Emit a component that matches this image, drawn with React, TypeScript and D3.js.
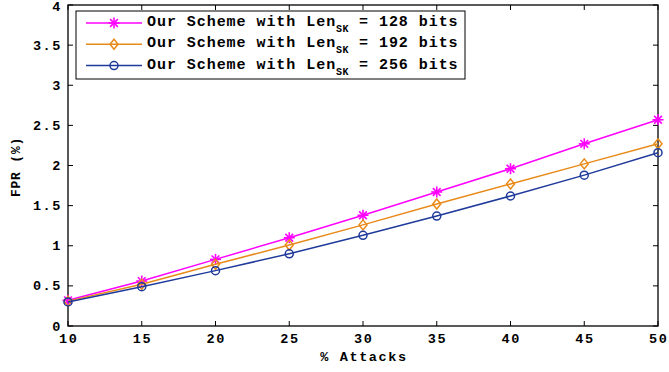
import React from 'react';
import * as d3 from 'd3';

const attacks = [10, 15, 20, 25, 30, 35, 40, 45, 50];
const fpr128 = [0.32, 0.56, 0.83, 1.10, 1.38, 1.67, 1.96, 2.27, 2.57];
const fpr192 = [0.31, 0.52, 0.77, 1.01, 1.26, 1.52, 1.77, 2.02, 2.27];
const fpr256 = [0.30, 0.49, 0.69, 0.90, 1.13, 1.37, 1.62, 1.88, 2.16];
const xTicks = [10, 15, 20, 25, 30, 35, 40, 45, 50];
const yTicks = [0, 0.5, 1, 1.5, 2, 2.5, 3, 3.5, 4];
const seriesBits = ['128', '192', '256'];
const seriesColors = ['#ff00ff', '#e88a1a', '#1f3a9a'];
const seriesMarkers = ['star', 'diamond', 'circle'];

const FONT = "'Liberation Mono', 'DejaVu Sans Mono', 'Courier New', monospace";

function Marker({ kind, x, y, color }: { kind: string; x: number; y: number; color: string }) {
  if (kind === 'star') {
    const r = 5.5;
    return (
      <g stroke={color} strokeWidth={1.6}>
        <line x1={x - r} y1={y} x2={x + r} y2={y} />
        <line x1={x} y1={y - r} x2={x} y2={y + r} />
        <line x1={x - r * 0.7} y1={y - r * 0.7} x2={x + r * 0.7} y2={y + r * 0.7} />
        <line x1={x - r * 0.7} y1={y + r * 0.7} x2={x + r * 0.7} y2={y - r * 0.7} />
      </g>
    );
  }
  if (kind === 'diamond') {
    const r = 5;
    return <path d={`M${x},${y - r}L${x + r * 0.8},${y}L${x},${y + r}L${x - r * 0.8},${y}Z`} fill="none" stroke={color} strokeWidth={1.5} />;
  }
  return <circle cx={x} cy={y} r={4} fill="none" stroke={color} strokeWidth={1.5} />;
}

export default function App() {
  const W = 669, H = 372;
  const m = { left: 68, right: 11, top: 5, bottom: 46 };
  const x = d3.scaleLinear().domain([10, 50]).range([m.left, W - m.right]);
  const y = d3.scaleLinear().domain([0, 4]).range([H - m.bottom, m.top]);
  const series = [fpr128, fpr192, fpr256];
  const line = d3.line<number>().x((_, i) => x(attacks[i])).y(d => y(d));
  const tick = 5;
  const tickStyle = { fontFamily: FONT, fontWeight: 'bold' as const, fontSize: 13.5, letterSpacing: 1.6 };

  return (
    <svg width={W} height={H} style={{ position: 'absolute', left: 0, top: 0, background: '#fff' }}>
      <rect x={m.left} y={m.top} width={W - m.left - m.right} height={H - m.top - m.bottom} fill="none" stroke="#000" strokeWidth={1.3} />
      {xTicks.map(t => (
        <g key={'x' + t}>
          <line x1={x(t)} x2={x(t)} y1={y(0)} y2={y(0) - tick} stroke="#000" />
          <line x1={x(t)} x2={x(t)} y1={y(4)} y2={y(4) + tick} stroke="#000" />
          <text x={x(t) + 0.8} y={343} textAnchor="middle" style={tickStyle}>{t}</text>
        </g>
      ))}
      {yTicks.map(t => (
        <g key={'y' + t}>
          <line x1={x(10)} x2={x(10) + tick} y1={y(t)} y2={y(t)} stroke="#000" />
          <line x1={x(50)} x2={x(50) - tick} y1={y(t)} y2={y(t)} stroke="#000" />
          <text x={x(10) - 6} y={Math.max(y(t) + 4.5, 11)} textAnchor="end" style={tickStyle}>{t}</text>
        </g>
      ))}
      <text x={364} y={361} textAnchor="middle" style={tickStyle}>% Attacks</text>
      <text transform={`translate(20,167) rotate(-90)`} textAnchor="middle"
        style={{ fontFamily: FONT, fontWeight: 'bold', fontSize: 13, letterSpacing: 0.8 }}>FPR (%)</text>
      {series.map((s, k) => (
        <g key={'s' + k}>
          <path d={line(s) || ''} fill="none" stroke={seriesColors[k]} strokeWidth={1.5} />
          {s.map((v, i) => (
            <Marker key={i} kind={seriesMarkers[k]} x={x(attacks[i])} y={y(v)} color={seriesColors[k]} />
          ))}
        </g>
      ))}
      <rect x={76} y={11} width={389} height={68} fill="#fff" stroke="#000" strokeWidth={1} />
      {seriesBits.map((b, k) => {
        const ly = 23 + k * 21.3;
        return (
          <g key={'l' + k}>
            <line x1={86} x2={142} y1={ly} y2={ly} stroke={seriesColors[k]} strokeWidth={1.5} />
            <Marker kind={seriesMarkers[k]} x={114} y={ly} color={seriesColors[k]} />
            <text x={147} y={ly + 3} style={{ fontFamily: FONT, fontWeight: 'bold', fontSize: 15, letterSpacing: 0.95 }}>
              Our Scheme with Len
              <tspan style={{ fontSize: 10, letterSpacing: 0.5 }} dy={6}>SK</tspan>
              <tspan dy={-6}> = {b} bits</tspan>
            </text>
          </g>
        );
      })}
    </svg>
  );
}
